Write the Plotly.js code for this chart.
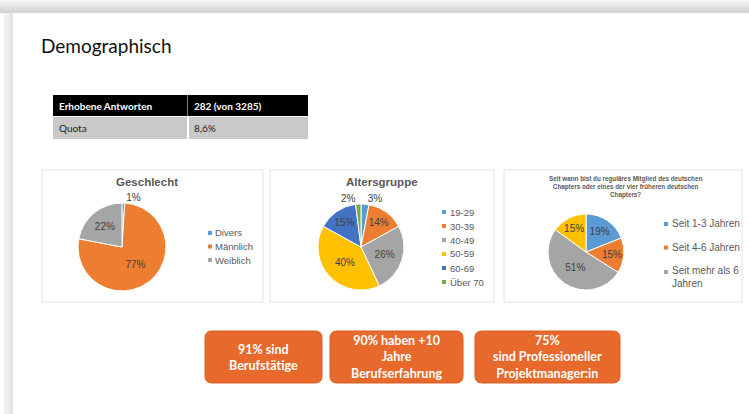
<!DOCTYPE html>
<html><head><meta charset="utf-8">
<script src="https://cdn.plot.ly/plotly-3.0.1.min.js"></script>
<style>html,body{margin:0;padding:0;background:#fff;}#chart{width:749px;height:414px;}</style>
</head><body><div id="chart"></div>
<script>
const W = 749, H = 414;

// ---- data ----
const pageTitle = 'Demographisch';
const tableCol1 = ['Erhobene Antworten', 'Quota'];
const tableCol2 = ['282 (von 3285)', '8,6%'];

const genderTitle = 'Geschlecht';
const genderLabels = ['Divers', 'Männlich', 'Weiblich'];
const genderValues = [1, 77, 22];

const ageTitle = 'Altersgruppe';
const ageLabels = ['19-29', '30-39', '40-49', '50-59', '60-69', 'Über 70'];
const ageValues = [3, 14, 26, 40, 15, 2];

const memberTitle = 'Seit wann bist du reguläres Mitglied des deutschen<br>Chapters oder eines der vier früheren deutschen<br>Chapters?';
const memberLabels = ['Seit 1-3 Jahren', 'Seit 4-6 Jahren', 'Seit mehr als 6<br>Jahren', 'Sonstige'];
const memberValues = [19, 15, 51, 15];
const memberLegendCount = 3;

const facts = ['91% sind<br>Berufstätige', '90% haben +10<br>Jahre<br>Berufserfahrung', '75%<br>sind Professioneller<br>Projektmanager:in'];

// ---- styles ----
const genderColors = ['#5B9BD5', '#ED7D31', '#A5A5A5'];
const ageColors = ['#5B9BD5', '#ED7D31', '#A5A5A5', '#FFC000', '#4472C4', '#70AD47'];
const memberColors = ['#5B9BD5', '#ED7D31', '#A5A5A5', '#FFC000'];
const FONT = 'Liberation Sans, Arial, sans-serif';
const SFONT = 'Lato, Open Sans, sans-serif';

const px = x => x / W;
const py = y => 1 - y / H;
function dom(cx, cy, r) { return {x: [px(cx - r), px(cx + r)], y: [py(cy + r), py(cy - r)]}; }

const pieBase = {
  type: 'pie', sort: false, direction: 'clockwise', rotation: 0, showlegend: false,
  hoverinfo: 'none', texttemplate: '%{value}%', insidetextorientation: 'horizontal',
  textfont: {family: FONT, size: 10, color: '#404040'},
};

const data = [
  Object.assign({}, pieBase, {labels: genderLabels, values: genderValues, domain: dom(122, 247, 44),
    marker: {colors: genderColors, line: {color: '#fff', width: 1}}, textposition: ['outside', 'inside', 'inside']}),
  Object.assign({}, pieBase, {labels: ageLabels, values: ageValues, domain: dom(361, 247, 43),
    marker: {colors: ageColors, line: {color: '#fff', width: 1}}, textposition: ['outside', 'inside', 'inside', 'inside', 'inside', 'outside']}),
  Object.assign({}, pieBase, {labels: memberLabels, values: memberValues, domain: dom(586, 252, 38),
    marker: {colors: memberColors, line: {color: '#fff', width: 1}}, textposition: 'inside'}),
];

const shapes = [];
const annotations = [];

function rect(x0, y0, x1, y1, fill, line) {
  shapes.push({type: 'rect', xref: 'paper', yref: 'paper', x0: px(x0), x1: px(x1), y0: py(y1), y1: py(y0),
    fillcolor: fill, line: line || {width: 0}, layer: 'below'});
}
function text(x, y, t, size, color, opts) {
  annotations.push(Object.assign({xref: 'paper', yref: 'paper', x: px(x), y: py(y), text: t, showarrow: false,
    xanchor: 'left', yanchor: 'middle', align: 'left', font: {family: FONT, size: size, color: color}, borderpad: 0}, opts || {}));
}

// background frame
const topGrad = ['#f6f6f6','#f2f2f2','#eeeeee','#ebebeb','#e8e8e8','#e5e5e5','#e2e2e2','#dfdfdf','#dcdcdc','#d9d9d9','#d7d7d7','#d5d5d5','#d3d3d3'];
topGrad.forEach((c, i) => rect(0, i, W, i + 1, c));
rect(4, 13, 9, H, '#f0f0f0');
rect(9, 13, 13, H, '#e4e4e4');

// title
text(40, 45, pageTitle, 19, '#111111', {font: {family: SFONT, size: 19, color: '#111111'}});

// table
rect(53, 95, 308, 116, '#000000');
rect(53, 117, 308, 139, '#c9c9c9');
rect(187, 95, 188, 116, '#7f7f7f');
rect(187, 117, 189, 139, '#ffffff');
text(58, 105.5, '<b>' + tableCol1[0] + '</b>', 10, '#ffffff', {font: {family: SFONT, size: 10, color: '#ffffff'}});
text(193, 105.5, '<b>' + tableCol2[0] + '</b>', 10, '#ffffff', {font: {family: SFONT, size: 10, color: '#ffffff'}});
text(58, 128, tableCol1[1], 10, '#222222', {font: {family: SFONT, size: 10, color: '#222222'}});
text(193, 128, tableCol2[1], 10, '#222222', {font: {family: SFONT, size: 10, color: '#222222'}});

// chart boxes
rect(42, 170, 263, 302, 'rgba(0,0,0,0)', {color: '#e0e0e0', width: 1});
rect(270, 170, 494, 302, 'rgba(0,0,0,0)', {color: '#e0e0e0', width: 1});
rect(504, 170, 742, 302, 'rgba(0,0,0,0)', {color: '#e0e0e0', width: 1});

// chart titles
text(147, 182, '<b>' + genderTitle + '</b>', 11.5, '#595959', {xanchor: 'center', align: 'center'});
text(382, 182, '<b>' + ageTitle + '</b>', 11.5, '#595959', {xanchor: 'center', align: 'center'});
text(625, 187, '<b>' + memberTitle + '</b>', 6.3, '#595959', {xanchor: 'center', align: 'center'});

// legends
function legend(mx, tx, ys, labels, colors, size, markerYs) {
  labels.forEach((l, i) => {
    const my = markerYs ? markerYs[i] : ys[i];
    shapes.push({type: 'rect', xref: 'paper', yref: 'paper', x0: px(mx - 2), x1: px(mx + 2), y0: py(my + 2), y1: py(my - 2),
      fillcolor: colors[i], line: {width: 0}});
    text(tx, ys[i], l, size, '#595959');
  });
}
legend(210, 214, [233, 246.5, 260], genderLabels, genderColors, 9.5);
legend(444, 449, [212, 226, 240, 254, 268, 282], ageLabels, ageColors, 9.5);
legend(666, 671, [224, 247.5, 277], memberLabels.slice(0, memberLegendCount), memberColors, 10, [224, 247.5, 272]);

// fact boxes
function roundRect(x0, y0, x1, y1, r) {
  const X = v => px(v).toFixed(5), Y = v => py(v).toFixed(5);
  return `M${X(x0 + r)},${Y(y0)} L${X(x1 - r)},${Y(y0)} Q${X(x1)},${Y(y0)} ${X(x1)},${Y(y0 + r)} ` +
    `L${X(x1)},${Y(y1 - r)} Q${X(x1)},${Y(y1)} ${X(x1 - r)},${Y(y1)} L${X(x0 + r)},${Y(y1)} ` +
    `Q${X(x0)},${Y(y1)} ${X(x0)},${Y(y1 - r)} L${X(x0)},${Y(y0 + r)} Q${X(x0)},${Y(y0)} ${X(x0 + r)},${Y(y0)} Z`;
}
const boxes = [[205, 331, 322, 383], [330, 331, 463, 383], [475, 331, 620, 383]];
boxes.forEach((b, i) => {
  shapes.push({type: 'path', xref: 'paper', yref: 'paper', path: roundRect(b[0], b[1], b[2], b[3], 7),
    fillcolor: '#E8692C', line: {color: '#d65d22', width: 1}});
  text((b[0] + b[2]) / 2, (b[1] + b[3]) / 2, '<b>' + facts[i] + '</b>', 12.5, '#ffffff',
    {xanchor: 'center', align: 'center', font: {family: SFONT, size: 12.5, color: '#ffffff'}});
});

const layout = {
  width: W, height: H, margin: {l: 0, r: 0, t: 0, b: 0},
  paper_bgcolor: '#ffffff', plot_bgcolor: '#ffffff',
  shapes: shapes, annotations: annotations, showlegend: false,
};
Plotly.newPlot('chart', data, layout, {displayModeBar: false, staticPlot: true});
</script>
</body></html>
